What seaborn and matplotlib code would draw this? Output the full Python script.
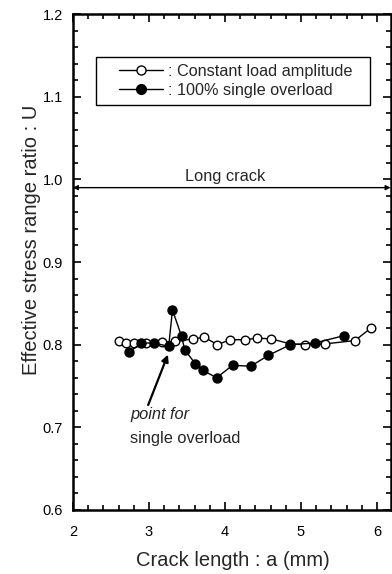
import matplotlib
matplotlib.use("Agg")
import matplotlib.pyplot as plt
import seaborn as sns
from matplotlib.lines import Line2D
from matplotlib.legend_handler import HandlerLine2D
from matplotlib.ticker import MultipleLocator

# Data
open_x = [2.60, 2.70, 2.80, 2.96, 3.17, 3.34, 3.58, 3.73, 3.90, 4.07, 4.27, 4.42, 4.61, 4.86, 5.05, 5.32, 5.71, 5.92]
open_y = [0.805, 0.802, 0.802, 0.802, 0.803, 0.804, 0.807, 0.809, 0.800, 0.806, 0.806, 0.808, 0.807, 0.801, 0.800, 0.801, 0.805, 0.820]
filled_x = [2.74, 2.90, 3.07, 3.26, 3.31, 3.43, 3.47, 3.61, 3.71, 3.89, 4.10, 4.34, 4.57, 4.86, 5.18, 5.57]
filled_y = [0.791, 0.802, 0.802, 0.798, 0.842, 0.810, 0.794, 0.777, 0.769, 0.760, 0.775, 0.774, 0.787, 0.800, 0.802, 0.811]
long_crack_u = 0.99
labels = [": Constant load amplitude", ": 100% single overload"]
x_ticks = [2, 3, 4, 5, 6]
y_ticks = [0.6, 0.7, 0.8, 0.9, 1.0, 1.1, 1.2]

sns.set_theme(style="ticks")
plt.rcParams['font.family'] = ['Liberation Sans', 'DejaVu Sans']

fig = plt.figure(figsize=(3.92, 5.74), dpi=100)
ax = fig.add_axes([0.186, 0.1115, 0.8105, 0.864])

sns.lineplot(x=open_x, y=open_y, ax=ax, sort=False, color='black', lw=1.0,
             marker='o', markersize=6.2, markerfacecolor='white',
             markeredgecolor='black', markeredgewidth=1.0)
sns.lineplot(x=filled_x, y=filled_y, ax=ax, sort=False, color='black', lw=1.0,
             marker='o', markersize=6.5, markerfacecolor='black',
             markeredgecolor='black', markeredgewidth=1.0)

ax.set_xlim(2, 6.18)
ax.set_ylim(0.6, 1.2)
ax.set_xticks(x_ticks)
ax.set_xticklabels([str(v) for v in x_ticks])
ax.set_yticks(y_ticks)
ax.set_yticklabels([f"{v:.1f}" for v in y_ticks])
ax.xaxis.set_minor_locator(MultipleLocator(0.2))
ax.yaxis.set_minor_locator(MultipleLocator(0.02))
ax.tick_params(which='both', direction='in', top=True, right=True, colors='black',
               labelsize=10.5, width=1.2)
ax.tick_params(which='major', length=6)
ax.tick_params(which='minor', length=3.5)
ax.tick_params(axis='x', pad=11)
ax.tick_params(axis='y', pad=7)
for s in ax.spines.values():
    s.set_linewidth(1.8)
    s.set_color('black')

ax.set_xlabel("Crack length : a (mm)", fontsize=14.5)
ax.set_ylabel("Effective stress range ratio : U", fontsize=14.5)
ax.xaxis.set_label_coords(0.503, -0.083)
ax.yaxis.set_label_coords(-0.100, 0.544)

# Long crack line
ax.annotate("", xy=(2.0, long_crack_u), xytext=(6.18, long_crack_u),
            arrowprops=dict(arrowstyle='<|-|>', color='black', lw=1.0,
                            mutation_scale=7, shrinkA=0, shrinkB=0))
ax.text(4.0, 0.995, "Long crack", ha='center', va='bottom', fontsize=11.8)

# Annotation
ax.annotate("", xy=(3.25, 0.788), xytext=(2.99, 0.727),
            arrowprops=dict(arrowstyle='-|>', color='black', lw=1.6,
                            mutation_scale=10, shrinkA=0, shrinkB=0))
ax.text(2.75, 0.716, "point for", ha='left', va='center', fontsize=11.8, style='italic')
ax.text(2.75, 0.686, "single overload", ha='left', va='center', fontsize=11.8)


class OffsetHandler(HandlerLine2D):
    def get_xdata(self, legend, xdescent, ydescent, width, height, fontsize):
        x0 = -xdescent + 0.27 * width
        x1 = -xdescent + width
        return [x0, x1], [0.5 * (x0 + x1)]


handles = [
    Line2D([], [], color='black', lw=1.0, marker='o', markersize=6.5,
           markerfacecolor='white', markeredgecolor='black'),
    Line2D([], [], color='black', lw=1.0, marker='o', markersize=7,
           markerfacecolor='black', markeredgecolor='black'),
]
leg = ax.legend(handles, labels, loc='upper left',
                bbox_to_anchor=(0.072, 0.80, 0.862, 0.113), mode='expand',
                borderaxespad=0, fontsize=11.7, handlelength=3.7, handletextpad=0.3,
                frameon=True, fancybox=False, edgecolor='black', framealpha=1,
                labelspacing=0.25, borderpad=0.42,
                handler_map={Line2D: OffsetHandler()})
leg.get_frame().set_linewidth(1.0)

fig.savefig("out.png", dpi=100)
